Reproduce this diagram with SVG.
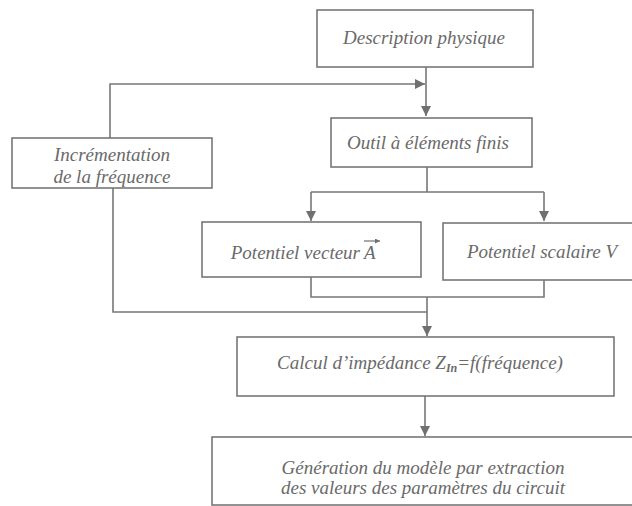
<svg xmlns="http://www.w3.org/2000/svg" width="632" height="506" viewBox="0 0 632 506">
<defs>
<marker id="ah" viewBox="0 0 10 10" refX="10" refY="5" markerWidth="10" markerHeight="10" markerUnits="userSpaceOnUse" orient="auto">
<path d="M0,0 L10,5 L0,10 z" fill="#707070"/>
</marker>
<marker id="sa" viewBox="0 0 10 10" refX="10" refY="5" markerWidth="5" markerHeight="5" markerUnits="userSpaceOnUse" orient="auto">
<path d="M0,0 L10,5 L0,10 z" fill="#707070"/>
</marker>
</defs>
<style>
.box{fill:#fff;stroke:#777;stroke-width:1.6}
.t{font-family:"Liberation Serif","Times New Roman",serif;font-style:italic;font-size:19px;fill:#6a6a6a;text-anchor:middle}
.c{fill:none;stroke:#777;stroke-width:1.6}
</style>
<rect width="632" height="506" fill="#fff"/>
<g id="connectors">
<path class="c" d="M426,67 V116" marker-end="url(#ah)"/>
<path class="c" d="M110,138 V84 H425" marker-end="url(#ah)"/>
<path class="c" d="M427,167 V192"/>
<path class="c" d="M311,192 H544"/>
<path class="c" d="M311,192 V221" marker-end="url(#ah)"/>
<path class="c" d="M544,192 V221" marker-end="url(#ah)"/>
<path class="c" d="M311,277 V297 H544 V280"/>
<path class="c" d="M113,188 V312 H427"/>
<path class="c" d="M427,297 V336" marker-end="url(#ah)"/>
<path class="c" d="M425,396 V436" marker-end="url(#ah)"/>
</g>
<g id="description">
<rect class="box" x="317" y="10" width="216" height="57"/>
<text class="t" x="424" y="44">Description physique</text>
</g>
<g id="outil">
<rect class="box" x="331" y="118" width="201" height="49"/>
<text class="t" x="428" y="149">Outil à éléments finis</text>
</g>
<g id="incrementation">
<rect class="box" x="12" y="138" width="200" height="50"/>
<text class="t" x="112" y="161">Incrémentation</text>
<text class="t" x="112" y="183">de la fréquence</text>
</g>
<g id="vecteur">
<rect class="box" x="202" y="222" width="219" height="55"/>
<text class="t" x="360" y="259" style="text-anchor:end">Potentiel vecteur</text>
<text class="t" x="364" y="259" style="text-anchor:start">A</text>
<line x1="364" y1="241" x2="380" y2="241" stroke="#707070" stroke-width="1.2" marker-end="url(#sa)"/>
</g>
<g id="scalaire">
<rect class="box" x="443" y="223" width="200" height="57"/>
<text class="t" x="542" y="258">Potentiel scalaire V</text>
</g>
<g id="calcul">
<rect class="box" x="237" y="337" width="377" height="59"/>
<text class="t" x="420" y="369">Calcul d’impédance Z<tspan font-size="12" dy="3" font-weight="bold">In</tspan><tspan dy="-3">=f(fréquence)</tspan></text>
</g>
<g id="generation">
<rect class="box" x="212" y="437" width="430" height="68"/>
<text class="t" x="423" y="474">Génération du modèle par extraction</text>
<text class="t" x="423" y="494">des valeurs des paramètres du circuit</text>
</g>
</svg>
